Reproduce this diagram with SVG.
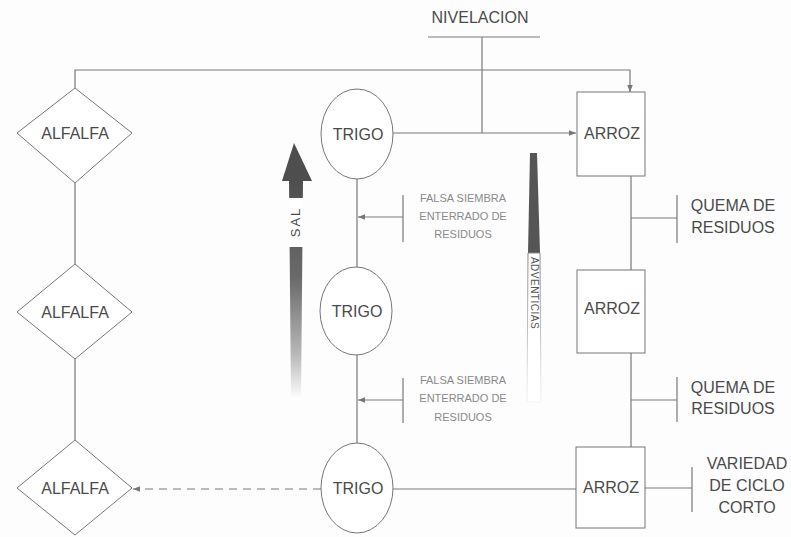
<svg xmlns="http://www.w3.org/2000/svg" width="791" height="537" viewBox="0 0 791 537">
<defs>
<style>
.ln{stroke:#7a7a7a;stroke-width:1.2;fill:none}
.sh{stroke:#777;stroke-width:1;fill:#fff}
.t{font-family:"Liberation Sans",Arial,sans-serif;font-size:16px;fill:#4a4a4a;text-anchor:middle}
.s{font-family:"Liberation Sans",Arial,sans-serif;font-size:11px;fill:#8a8a8a;text-anchor:middle}
</style>
<marker id="ah" viewBox="0 0 10 10" refX="10" refY="5" markerWidth="7" markerHeight="7" markerUnits="userSpaceOnUse" orient="auto">
<path d="M0,1 L10,5 L0,9 Z" fill="#777"/>
</marker>
<linearGradient id="salg" x1="0" y1="0" x2="0" y2="1">
<stop offset="0" stop-color="#4e4e4e"/>
<stop offset="0.45" stop-color="#6a6a6a"/>
<stop offset="0.8" stop-color="#b8b8b8"/>
<stop offset="1" stop-color="#fdfdfd"/>
</linearGradient>
<linearGradient id="advg" x1="0" y1="0" x2="0" y2="1">
<stop offset="0" stop-color="#888"/>
<stop offset="1" stop-color="#f4f4f4"/>
</linearGradient>
</defs>
<rect width="791" height="537" fill="#fdfdfd"/>

<g id="connectors">
<polyline class="ln" points="75,88 75,70 630,70 630,92" marker-end="url(#ah)"/>
<line class="ln" x1="428" y1="37" x2="540" y2="37"/>
<line class="ln" x1="482" y1="37" x2="482" y2="133"/>
<line class="ln" x1="392" y1="133" x2="576" y2="133" marker-end="url(#ah)"/>
<line class="ln" x1="75" y1="183" x2="75" y2="264"/>
<line class="ln" x1="75" y1="359" x2="75" y2="440"/>
<line class="ln" x1="357" y1="179" x2="357" y2="267"/>
<line class="ln" x1="357" y1="355" x2="357" y2="443"/>
<line class="ln" x1="631" y1="176" x2="631" y2="270"/>
<line class="ln" x1="631" y1="353" x2="631" y2="447"/>
<line class="ln" x1="576" y1="489" x2="392" y2="489"/>
<line class="ln" x1="321" y1="489" x2="133" y2="489" stroke-dasharray="8,6" marker-end="url(#ah)"/>
<line class="ln" x1="403" y1="217" x2="358" y2="217" marker-end="url(#ah)"/>
<line class="ln" x1="403" y1="195" x2="403" y2="242"/>
<line class="ln" x1="403" y1="400" x2="358" y2="400" marker-end="url(#ah)"/>
<line class="ln" x1="403" y1="378" x2="403" y2="423"/>
<line class="ln" x1="631" y1="218" x2="677" y2="218"/>
<line class="ln" x1="677" y1="195" x2="677" y2="243"/>
<line class="ln" x1="631" y1="400" x2="677" y2="400"/>
<line class="ln" x1="677" y1="377" x2="677" y2="422"/>
<line class="ln" x1="645" y1="488" x2="692" y2="488"/>
<line class="ln" x1="692" y1="467" x2="692" y2="512"/>
</g>

<g id="nivelacion"><text class="t" x="480" y="23">NIVELACION</text></g>

<g id="alfalfa1"><polygon class="sh" points="75,88 132,133 75,183 17,133"/><text class="t" x="75" y="139">ALFALFA</text></g>
<g id="alfalfa2"><polygon class="sh" points="75,264 132,312 75,359 17,312"/><text class="t" x="75" y="318">ALFALFA</text></g>
<g id="alfalfa3"><polygon class="sh" points="75,440 132,488 75,535 17,488"/><text class="t" x="75" y="494">ALFALFA</text></g>

<g id="trigo1"><ellipse class="sh" cx="357" cy="134" rx="36" ry="45"/><text class="t" x="358" y="140">TRIGO</text></g>
<g id="trigo2"><ellipse class="sh" cx="356" cy="311" rx="36" ry="44"/><text class="t" x="357" y="317">TRIGO</text></g>
<g id="trigo3"><ellipse class="sh" cx="357" cy="488" rx="36" ry="45"/><text class="t" x="358" y="494">TRIGO</text></g>

<g id="arroz1"><rect class="sh" x="577" y="92" width="68" height="84"/><text class="t" x="612" y="139">ARROZ</text></g>
<g id="arroz2"><rect class="sh" x="577" y="270" width="68" height="83"/><text class="t" x="612" y="314">ARROZ</text></g>
<g id="arroz3"><rect class="sh" x="576" y="447" width="69" height="81"/><text class="t" x="611" y="493">ARROZ</text></g>

<g id="falsa1"><text class="s" x="463" y="202">FALSA SIEMBRA</text><text class="s" x="463" y="220">ENTERRADO DE</text><text class="s" x="463" y="238">RESIDUOS</text></g>
<g id="falsa2"><text class="s" x="463" y="384">FALSA SIEMBRA</text><text class="s" x="463" y="402">ENTERRADO DE</text><text class="s" x="463" y="421">RESIDUOS</text></g>

<g id="quema1"><text class="t" x="733" y="211">QUEMA DE</text><text class="t" x="733" y="233">RESIDUOS</text></g>
<g id="quema2"><text class="t" x="733" y="393">QUEMA DE</text><text class="t" x="733" y="414">RESIDUOS</text></g>

<g id="variedad"><text class="t" x="747" y="469">VARIEDAD</text><text class="t" x="747" y="491">DE CICLO</text><text class="t" x="747" y="513">CORTO</text></g>

<g id="sal">
<polygon points="289,180 303,180 301,398 291,398" fill="url(#salg)"/>
<polygon points="294,143 312,181 282,181" fill="#4e4e4e"/>
<rect x="289" y="198" width="14" height="49" fill="#fff"/>
<text transform="translate(300,222) rotate(-90)" x="0" y="0" font-family="'Liberation Sans',Arial,sans-serif" font-size="13" letter-spacing="2" fill="#4a4a4a" text-anchor="middle">SAL</text>
</g>

<g id="adventicias">
<polygon points="530,153 537,153 540,253 528,253" fill="#555"/>
<polygon points="528,253 540,253 541,402 527,402" fill="#fff" stroke="url(#advg)" stroke-width="1"/>
<text transform="translate(531,293) rotate(90)" x="0" y="0" font-family="'Liberation Sans',Arial,sans-serif" font-size="10" letter-spacing="0.5" fill="#555" text-anchor="middle">ADVENTICIAS</text>
</g>
</svg>
